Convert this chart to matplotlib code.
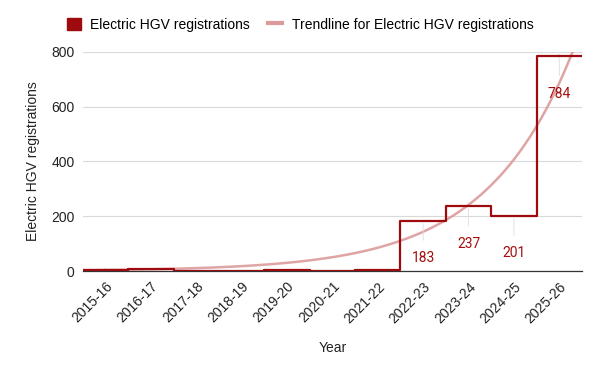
import numpy as np
import matplotlib.pyplot as plt
from matplotlib.patches import Patch
from matplotlib.lines import Line2D

# Data
years = ["2015-16", "2016-17", "2017-18", "2018-19", "2019-20", "2020-21",
         "2021-22", "2022-23", "2023-24", "2024-25", "2025-26"]
registrations = [5, 8, 0, 0, 4, 0, 2, 183, 237, 201, 784]
labelled = [183, 237, 201, 784]

# exponential trendline y = a * b**i, coefficients
trend_a = 3.7
trend_b = 1.686

line_col = "#9e0b0f"
trend_col = "#dc9a9a"

plt.rcParams["font.family"] = ["Liberation Sans", "DejaVu Sans"]

fig = plt.figure(figsize=(6.0, 3.72), dpi=100)
ax = fig.add_axes([0.138, 0.2715, 0.832, 0.589])

x = np.arange(len(years))
ax.step(x, registrations, where="mid", color=line_col, lw=1.6, zorder=3)
# extend the first and last steps out to the edge of the axes
ax.plot([-0.5, 0], [registrations[0]] * 2, color=line_col, lw=1.6, zorder=3)
ax.plot([len(years) - 1, len(years) - 0.5], [registrations[-1]] * 2,
        color=line_col, lw=1.6, zorder=3)

xt = np.linspace(-0.5, len(years) - 0.5, 300)
ax.plot(xt, trend_a * trend_b ** xt, color=trend_col, lw=1.8, alpha=0.9, zorder=2)

for i, v in enumerate(registrations):
    if v in labelled:
        ax.annotate(str(v), xy=(i, v), xytext=(0, -27), textcoords="offset points",
                    ha="center", va="center", fontsize=10, color="#a50e0e",
                    family=["Roboto", "DejaVu Sans"])
        ax.annotate("", xy=(i, v), xytext=(0, -16), textcoords="offset points",
                    arrowprops=dict(arrowstyle="-", color="#dddddd", lw=0.6))

ax.set_xlim(-0.5, len(years) - 0.5)
ax.set_ylim(0, 800)
ax.set_yticks([0, 200, 400, 600, 800])
ax.set_xticks(x)
ax.set_xticklabels(years, rotation=45, ha="right", rotation_mode="anchor")
ax.tick_params(axis="both", length=0, labelsize=10, labelcolor="#222222")
ax.tick_params(axis="x", pad=6)
ax.tick_params(axis="y", pad=6)

ax.grid(axis="y", color="#d9d9d9", lw=0.8)
ax.set_axisbelow(True)
for s in ["top", "right", "left"]:
    ax.spines[s].set_visible(False)
ax.spines["bottom"].set_color("#333333")
ax.spines["bottom"].set_linewidth(0.9)

ax.set_xlabel("Year", fontsize=10, color="#222222", labelpad=11)
ax.set_ylabel("Electric HGV registrations", fontsize=10, color="#222222", labelpad=8)

handles = [Patch(facecolor=line_col, edgecolor=line_col),
           Line2D([], [], color=trend_col, lw=3)]
fig.legend(handles, ["Electric HGV registrations",
                     "Trendline for Electric HGV registrations"],
           loc="center", bbox_to_anchor=(0.5, 0.933), ncol=2, frameon=False,
           fontsize=10, handlelength=1.0, handleheight=1.0, columnspacing=1.3,
           handletextpad=0.7)

fig.savefig("out.png", dpi=100)
